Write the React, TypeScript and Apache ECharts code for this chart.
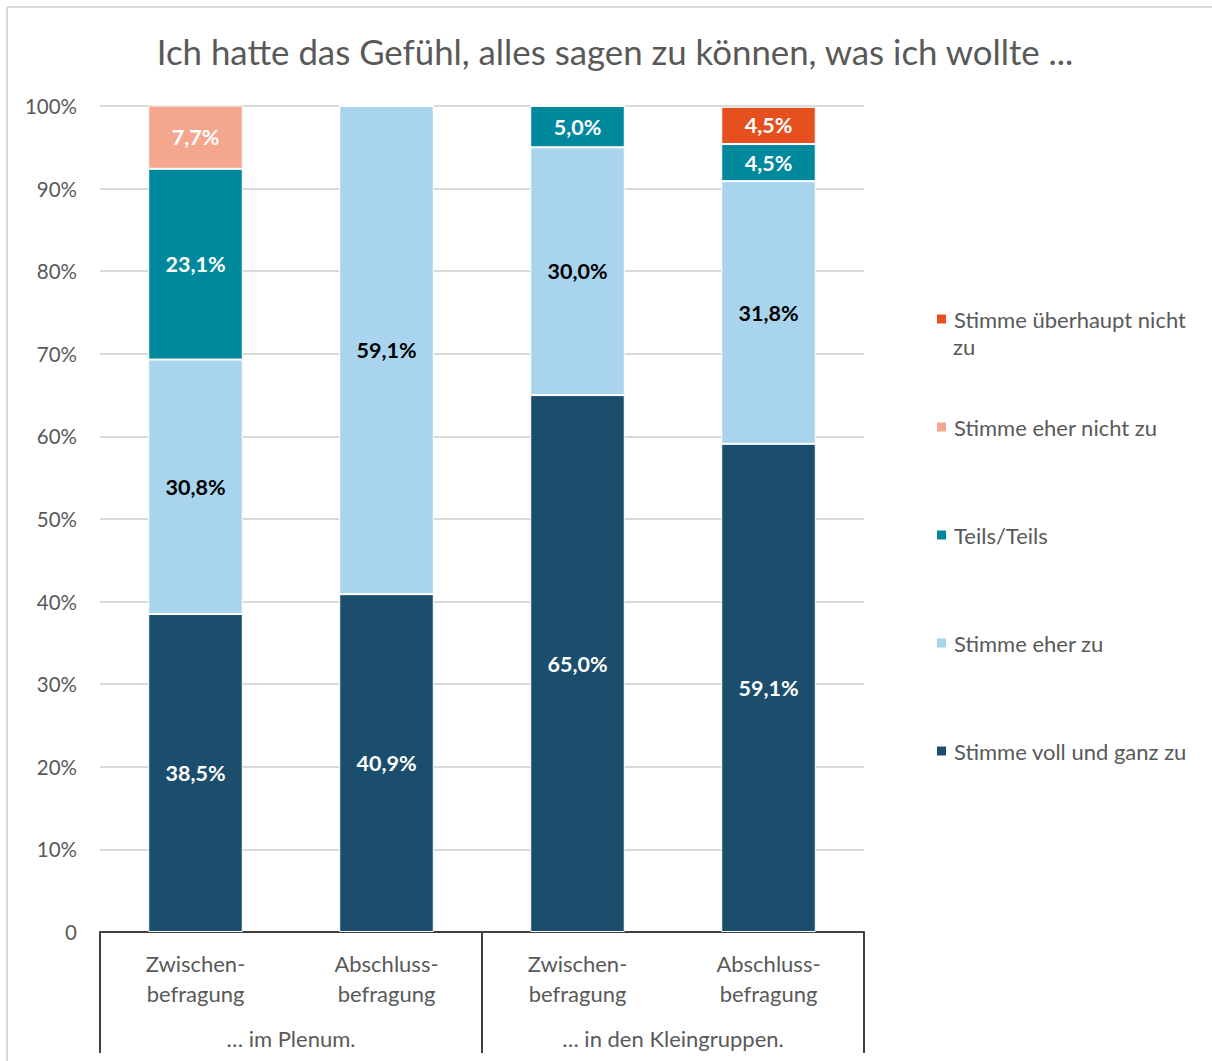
import React, { useEffect, useRef } from "react";
import * as echarts from "echarts";

const categories = ["Zwischen-\nbefragung", "Abschluss-\nbefragung", "Zwischen-\nbefragung", "Abschluss-\nbefragung"];
const groups = ["… im Plenum.", "… in den Kleingruppen."];
const vollUndGanz = [38.5, 40.9, 65.0, 59.1];
const eherZu = [30.8, 59.1, 30.0, 31.8];
const teilsTeils = [23.1, 0, 5.0, 4.5];
const eherNicht = [7.7, 0, 0, 0];
const ueberhauptNicht = [0, 0, 0, 4.5];

const FONT = "Lato";
const GRAY = "#595959";

export default function App() {
  const ref = useRef<HTMLDivElement>(null);
  useEffect(() => {
    const chart = echarts.init(ref.current!, undefined, { renderer: "svg" });
    const fmt = (p: any) => (p.value ? p.value.toFixed(1).replace(".", ",") + "%" : "");
    const mk = (name: string, data: number[], color: string, labelColor: string) => ({
      name,
      type: "bar",
      stack: "s",
      data,
      barWidth: "49.5%",
      itemStyle: { color, borderColor: "#ffffff", borderWidth: 1 },
      label: {
        show: true,
        position: "inside",
        formatter: fmt,
        color: labelColor,
        fontFamily: FONT,
        fontWeight: "bold",
        fontSize: 21.5,
      },
    });
    chart.setOption({
      animation: false,
      textStyle: { fontFamily: FONT },
      title: {
        text: "Ich hatte das Gefühl, alles sagen zu können, was ich wollte ...",
        left: 610,
        top: 29,
        textAlign: "center",
        textStyle: { fontFamily: FONT, fontSize: 34.8, fontWeight: "normal", color: GRAY },
      },
      grid: { left: 100, right: 348, top: 106, bottom: 129, containLabel: false },
      legend: {
        orient: "vertical",
        left: 935,
        top: 306,
        padding: 0,
        itemWidth: 11,
        itemHeight: 11,
        itemGap: 82,
        icon: "rect",
        data: [
          "Stimme überhaupt nicht zu",
          "Stimme eher nicht zu",
          "Teils/Teils",
          "Stimme eher zu",
          "Stimme voll und ganz zu",
        ],
        formatter: (n: string) => (n === "Stimme überhaupt nicht zu" ? "Stimme überhaupt nicht" : n),
        textStyle: { fontFamily: FONT, fontSize: 22, color: GRAY, lineHeight: 26, padding: [0, 0, 0, 2] },
      },
      graphic: [
        { type: "line", shape: { x1: 7, y1: 7, x2: 1212, y2: 7 }, style: { stroke: "#d9d9d9", lineWidth: 2 } },
        { type: "line", shape: { x1: 7, y1: 7, x2: 7, y2: 1061 }, style: { stroke: "#d9d9d9", lineWidth: 2 } },
        {
          type: "text",
          left: 953,
          top: 335,
          style: { text: "zu", fontFamily: FONT, fontSize: 22, fill: GRAY },
        },
      ],
      xAxis: [
        {
          type: "category",
          data: categories,
          position: "bottom",
          offset: 0,
          axisLine: { show: true, lineStyle: { color: "#404040", width: 2 } },
          axisTick: { show: false },
          axisLabel: { color: GRAY, fontFamily: FONT, fontSize: 22, lineHeight: 30, margin: 16, interval: 0 },
        },
        {
          type: "category",
          data: groups,
          position: "bottom",
          offset: 0,
          axisLine: { show: false },
          axisTick: { show: true, length: 121, interval: 0, lineStyle: { color: "#404040", width: 2 } },
          axisLabel: { color: GRAY, fontFamily: FONT, fontSize: 22, margin: 95, interval: 0 },
        },
      ],
      yAxis: {
        type: "value",
        min: 0,
        max: 100,
        interval: 10,
        axisLine: { show: false },
        axisTick: { show: false },
        splitLine: { lineStyle: { color: "#d9d9d9", width: 2 } },
        axisLabel: {
          color: GRAY,
          fontFamily: FONT,
          fontSize: 20.5,
          margin: 23,
          formatter: (v: number) => (v === 0 ? "0" : v + "%"),
        },
      },
      series: [
        mk("Stimme voll und ganz zu", vollUndGanz, "#1a4e6c", "#ffffff"),
        mk("Stimme eher zu", eherZu, "#a8d4ed", "#000000"),
        mk("Teils/Teils", teilsTeils, "#00899d", "#ffffff"),
        mk("Stimme eher nicht zu", eherNicht, "#f4a68e", "#ffffff"),
        mk("Stimme überhaupt nicht zu", ueberhauptNicht, "#e6501f", "#ffffff"),
      ],
    });
    return () => chart.dispose();
  }, []);
  return <div ref={ref} style={{ position: "absolute", left: 0, top: 0, width: 1212, height: 1061, background: "#fff" }} />;
}
